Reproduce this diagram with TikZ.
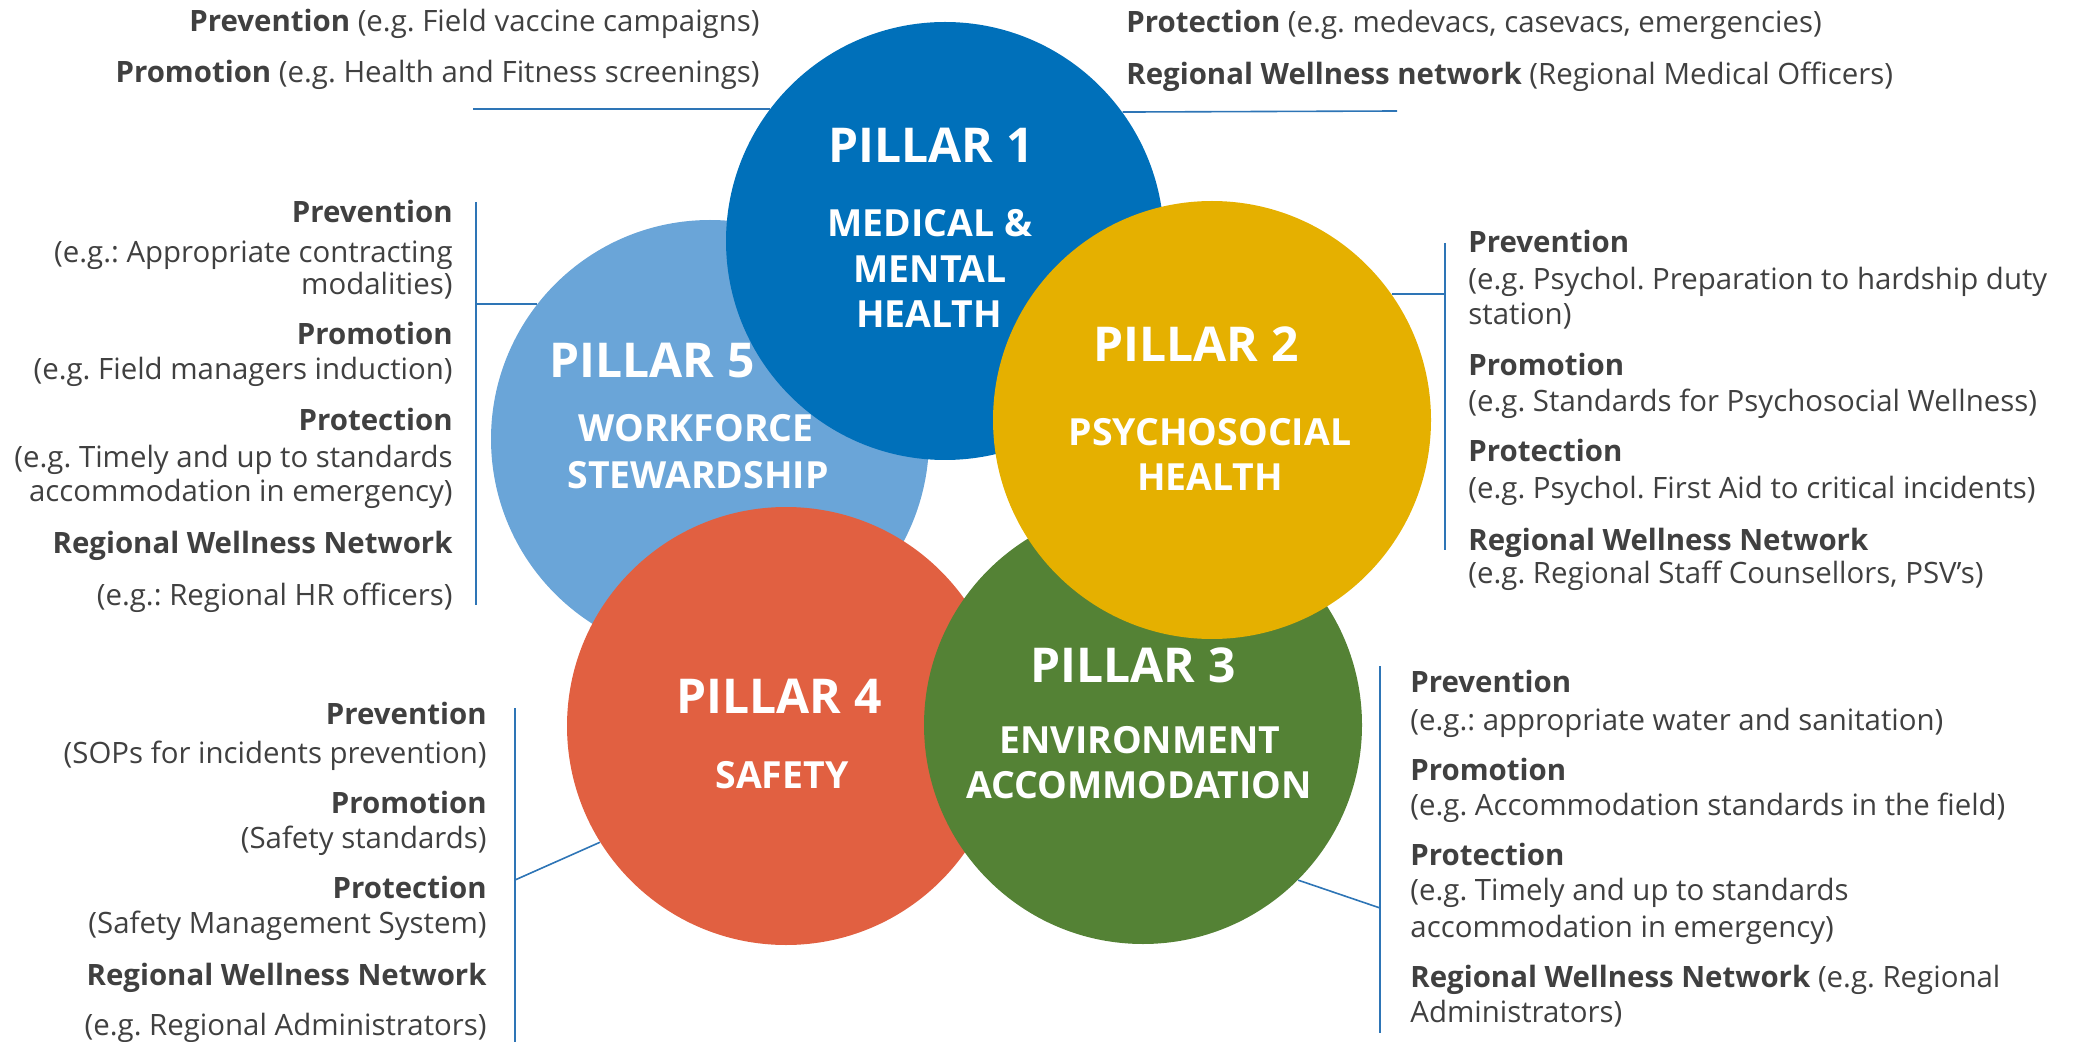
\documentclass[tikz,border=0pt]{standalone}
\usepackage{fontspec}
\setmainfont{Open Sans}
\usetikzlibrary{positioning}
\definecolor{pOne}{RGB}{0,112,186}
\definecolor{pTwo}{RGB}{229,176,0}
\definecolor{pThree}{RGB}{84,130,53}
\definecolor{pFour}{RGB}{225,96,65}
\definecolor{pFive}{RGB}{106,165,216}
\definecolor{noteGray}{RGB}{64,64,64}
\definecolor{linkBlue}{RGB}{46,117,182}
\frenchspacing

\begin{document}
\begin{tikzpicture}[x=0.5pt, y=-0.5pt,
  pillar/.style={circle, minimum size=219pt, inner sep=0pt},
  ptitle/.style={text=white, anchor=base, inner sep=0pt, font=\bfseries\fontsize{24}{28}\selectfont},
  psub/.style={text=white, anchor=base, inner sep=0pt, font=\bfseries\fontsize{18.7}{22}\selectfont},
  note/.style={text=noteGray, inner sep=0pt, font=\fontsize{14.7}{18}\selectfont},
  link/.style={draw=linkBlue, line width=0.8pt}]
  \useasboundingbox (0,0) rectangle (2075,1042);

  % The five pillars, back to front
  \node[pillar, fill=pFive] (p5) at (710,439) {};
  \node[pillar, fill=pFour] (p4) at (786,726) {};
  \node[pillar, fill=pThree] (p3) at (1143,725) {};
  \node[pillar, fill=pOne] (p1) at (945,241) {};
  \node[pillar, fill=pTwo] (p2) at (1212,420) {};

  % Pillar labels
  \node[ptitle] (p1t) at (931,163) {PILLAR 1};
  \node[psub] (p1a) at (930,237) {MEDICAL \&};
  \node[psub] (p1b) at (930,283) {MENTAL};
  \node[psub] (p1c) at (929,328) {HEALTH};

  \node[ptitle] (p2t) at (1196,362) {PILLAR 2};
  \node[psub] (p2a) at (1210,445) {PSYCHOSOCIAL};
  \node[psub] (p2b) at (1210,490) {HEALTH};

  \node[ptitle] (p3t) at (1133,682) {PILLAR 3};
  \node[psub] (p3a) at (1140,753) {ENVIRONMENT};
  \node[psub] (p3b) at (1139,798) {ACCOMMODATION};

  \node[ptitle] (p4t) at (779,713) {PILLAR 4};
  \node[psub] (p4a) at (782,788) {SAFETY};

  \node[ptitle] (p5t) at (652,378) {PILLAR 5};
  \node[psub] (p5a) at (696,442) {WORKFORCE};
  \node[psub] (p5b) at (698,488) {STEWARDSHIP};

  % Pillar 1 notes
  \node[note, anchor=base east] (n1a) at (760,32) {\textbf{Prevention} (e.g. Field vaccine campaigns)};
  \node[note, anchor=base east] (n1b) at (760,83) {\textbf{Promotion} (e.g. Health and Fitness screenings)};
  \node[note, anchor=base west] (n1c) at (1126,33) {\textbf{Protection} (e.g. medevacs, casevacs, emergencies)};
  \node[note, anchor=base west] (n1d) at (1126,85) {\textbf{Regional Wellness network} (Regional Medical Officers)};
  \coordinate (c1l) at (473,109);
  \coordinate (c1r) at (1397,111);
  \draw[link] (c1l) -- (p1.143);
  \draw[link] (p1.36) -- (c1r);

  % Pillar 5 notes
  \foreach \y/\t [count=\i] in {223/{\textbf{Prevention}}, 263/{(e.g.: Appropriate contracting}, 295/{modalities)},
      345/{\textbf{Promotion}}, 380/{(e.g. Field managers induction)},
      431/{\textbf{Protection}}, 467/{(e.g. Timely and up to standards}, 502/{accommodation in emergency)},
      553/{\textbf{Regional Wellness Network}}, 605/{(e.g.: Regional HR officers)}}
    \node[note, anchor=base east] (n5-\i) at (453,\y) {\t};
  \coordinate (b5top) at (476,202);
  \coordinate (b5bot) at (476,605);
  \draw[link] (b5top) -- (b5bot);
  \draw[link] (b5top |- p5.142) -- (p5.142);

  % Pillar 2 notes
  \foreach \y/\t [count=\i] in {253/{\textbf{Prevention}}, 290/{(e.g. Psychol. Preparation to hardship duty}, 325/{station)},
      376/{\textbf{Promotion}}, 412/{(e.g. Standards for Psychosocial Wellness)},
      461/{\textbf{Protection}}, 498/{(e.g. Psychol. First Aid to critical incidents)},
      550/{\textbf{Regional Wellness Network}}, 583/{(e.g. Regional Staff Counsellors, PSV’s)}}
    \node[note, anchor=base west] (n2-\i) at (1468,\y) {\t};
  \coordinate (b2top) at (1445,243);
  \coordinate (b2bot) at (1445,550);
  \draw[link] (b2top) -- (b2bot);
  \draw[link] (p2.35) -- (b2top |- p2.35);

  % Pillar 3 notes
  \foreach \y/\t [count=\i] in {692/{\textbf{Prevention}}, 730/{(e.g.: appropriate water and sanitation)},
      780/{\textbf{Promotion}}, 815/{(e.g. Accommodation standards in the field)},
      865/{\textbf{Protection}}, 900/{(e.g. Timely and up to standards}, 937/{accommodation in emergency)},
      987/{\textbf{Regional Wellness Network} (e.g. Regional}, 1022/{Administrators)}}
    \node[note, anchor=base west] (n3-\i) at (1410,\y) {\t};
  \coordinate (b3top) at (1380,666);
  \coordinate (b3bot) at (1380,1033);
  \coordinate (b3mid) at (1380,908);
  \draw[link] (b3top) -- (b3bot);
  \draw[link] (p3.315) -- (b3mid);

  % Pillar 4 notes
  \foreach \y/\t [count=\i] in {724/{\textbf{Prevention}}, 763/{(SOPs for incidents prevention)},
      813/{\textbf{Promotion}}, 848/{(Safety standards)},
      898/{\textbf{Protection}}, 933/{(Safety Management System)},
      985/{\textbf{Regional Wellness Network}}, 1035/{(e.g. Regional Administrators)}}
    \node[note, anchor=base east] (n4-\i) at (487,\y) {\t};
  \coordinate (b4top) at (515,708);
  \coordinate (b4bot) at (515,1042);
  \coordinate (b4mid) at (515,880);
  \draw[link] (b4top) -- (b4bot);
  \draw[link] (b4mid) -- (p4.212);
\end{tikzpicture}
\end{document}
